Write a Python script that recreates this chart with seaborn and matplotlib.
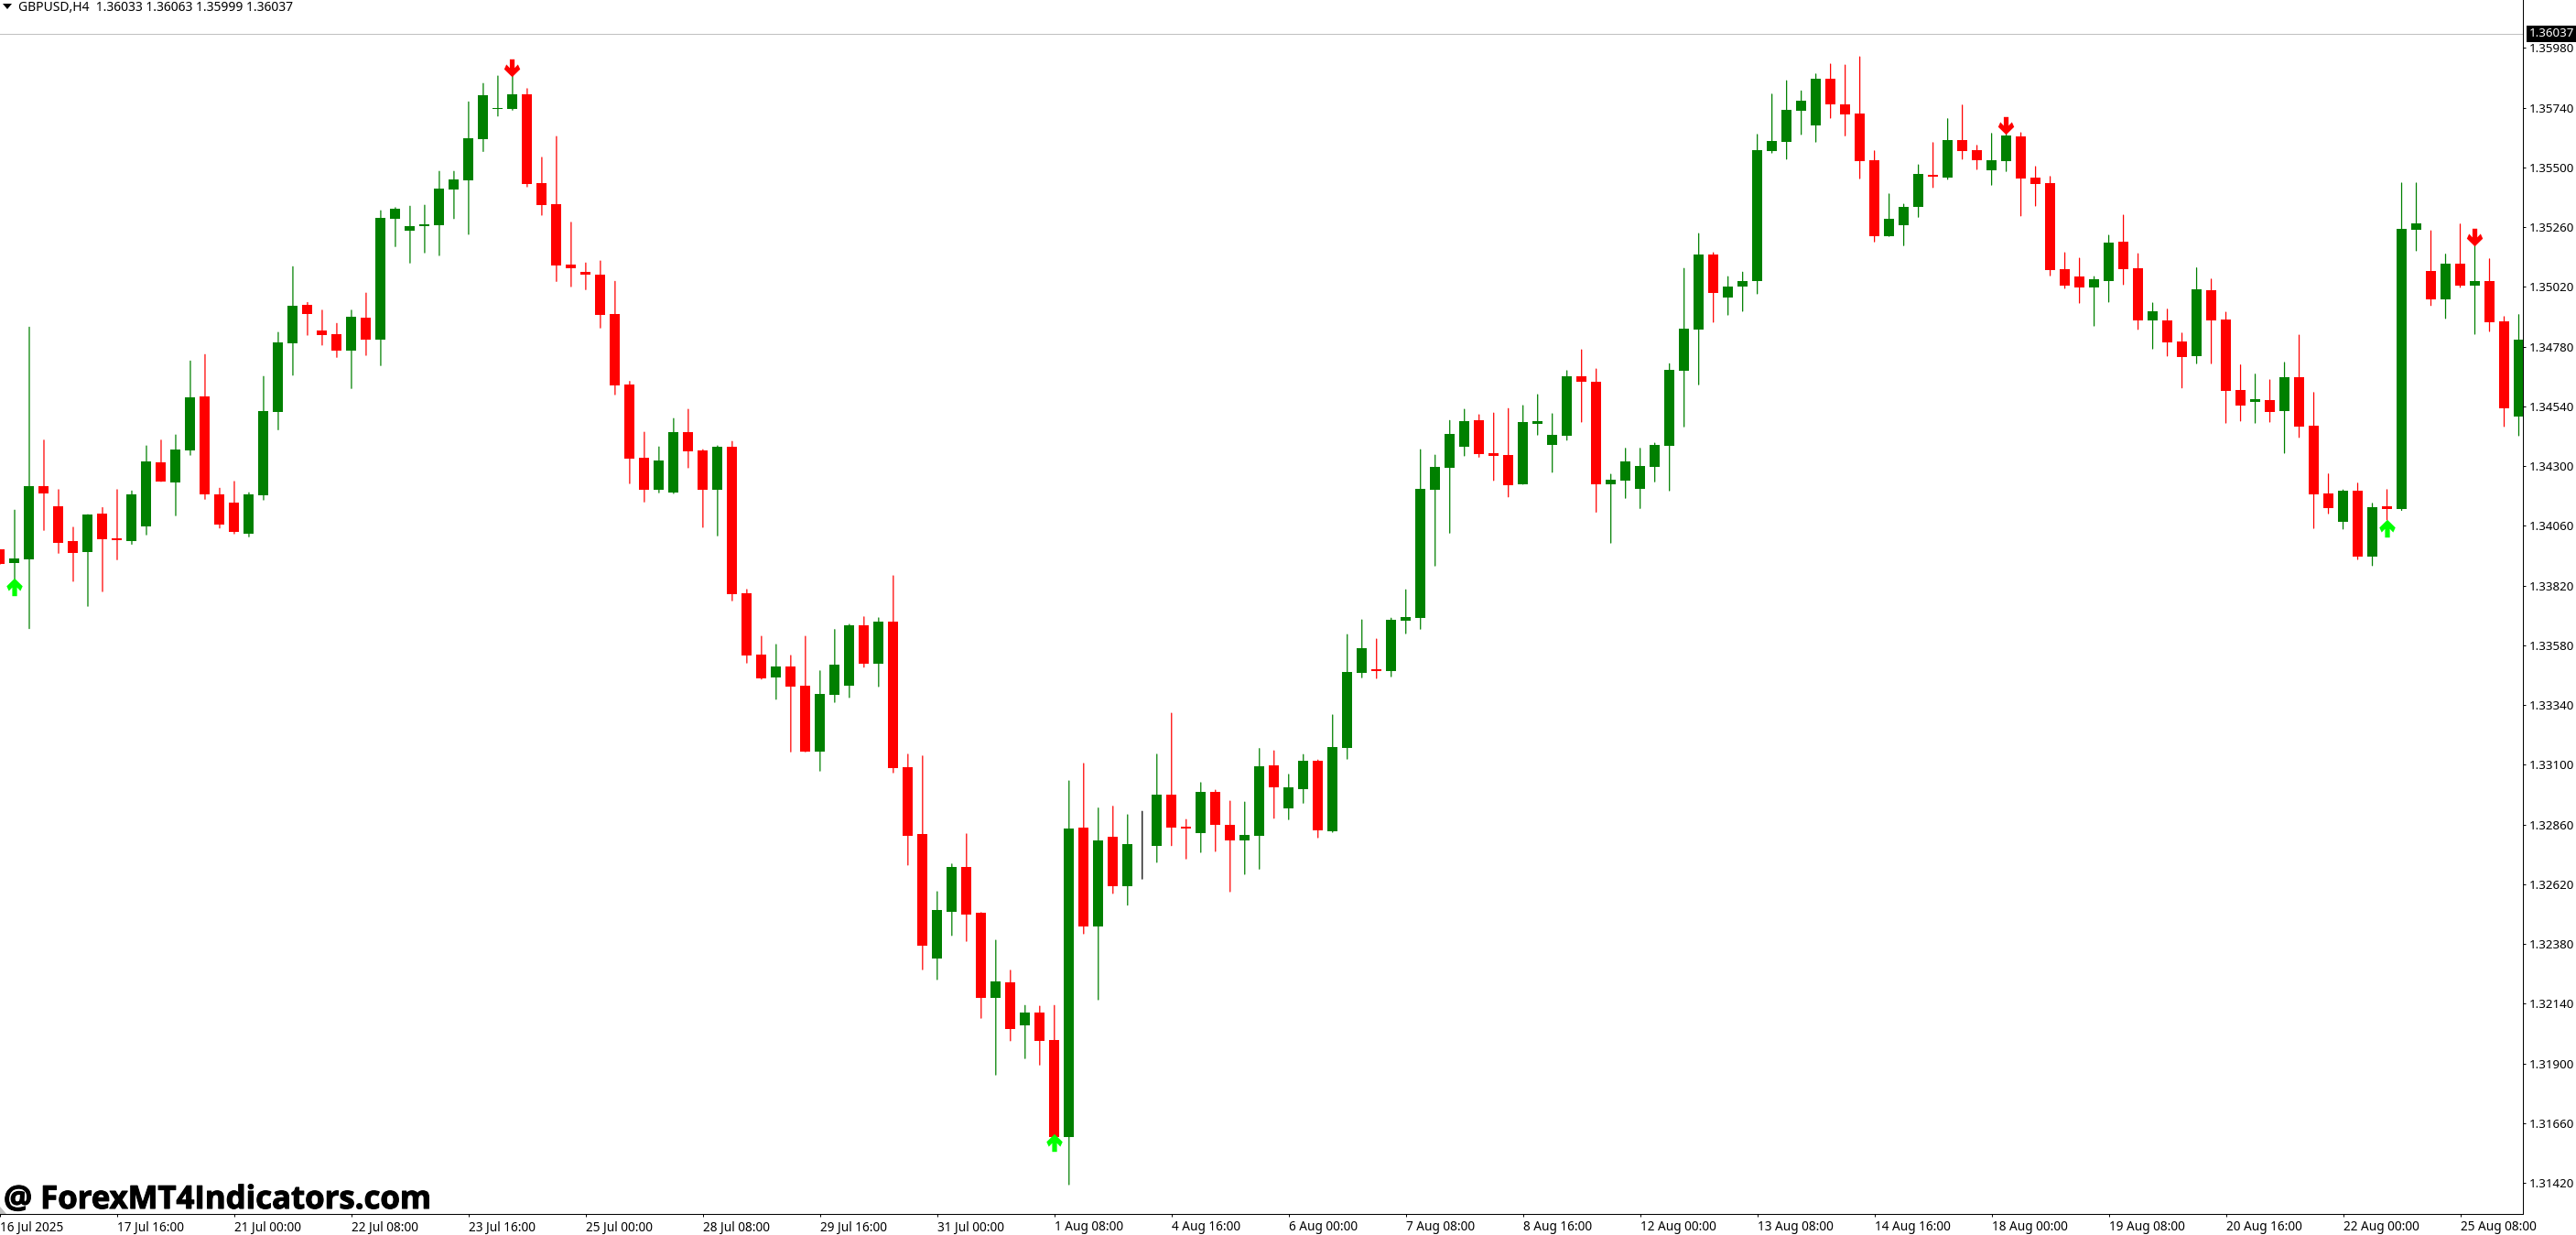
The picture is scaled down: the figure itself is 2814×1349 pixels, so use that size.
import matplotlib
matplotlib.use("Agg")
import matplotlib.pyplot as plt
from matplotlib.path import Path
from matplotlib.patches import Polygon
from matplotlib.transforms import IdentityTransform
import matplotlib.patheffects as pe
import seaborn as sns
import pandas as pd

# GBPUSD H4 candles, prices in 1e-5 units (points); first bar index is -1 (cut by the left edge)
opens = [133964,
 133909,133924,134220,134138,133998,133954,134108,134009,133998,134057,
 134315,134234,134363,134579,134185,134152,134028,134182,134517,134793,
 134947,134844,134829,134763,134896,134808,135294,135246,135264,135267,
 135410,135448,135614,135734,135734,135793,135436,135351,135110,135080,
 135069,134911,134627,134333,134204,134193,134436,134362,134204,134377,
 133790,133542,133451,133495,133418,133152,133381,133418,133660,133506,
 133676,133091,132822,132321,132509,132690,132506,132163,132226,132052,
 132105,131994,131604,132848,132449,132811,132613,132775,132775,132980,
 132852,132826,132991,132859,132796,132815,133098,132926,133002,133116,
 132832,133167,133469,133483,133476,133678,133689,134204,134293,134377,
 134483,134351,134344,134227,134470,134384,134422,134660,134638,134227,
 134242,134209,134297,134381,134683,134848,135150,134977,135021,135043,
 135566,135602,135728,135668,135855,135753,135716,135528,135223,135267,
 135340,135470,135460,135611,135570,135488,135525,135625,135460,135437,
 135092,135061,135018,135043,135202,135096,134885,134885,134801,134742,
 135006,134889,134606,134558,134565,134522,134657,134462,134191,134076,
 134201,133937,134139,134128,135249,135084,134970,135114,135025,135043,
 134881,134499]
highs = [133964,
 134123,134858,134404,134205,134054,134105,134133,134205,134200,134381,
 134404,134425,134722,134748,134211,134238,134193,134660,134837,135101,
 134957,134926,134873,134926,134995,135326,135338,135344,135348,135484,
 135484,135763,135837,135867,135876,135816,135540,135624,135279,135116,
 135124,135042,134640,134436,134377,134491,134528,134366,134381,134399,
 133804,133616,133583,133539,133616,133477,133643,133664,133694,133690,
 133859,133142,133135,132590,132701,132822,132506,132395,132274,132133,
 132130,132133,133035,133105,132926,132933,132899,132913,133142,133307,
 132880,133028,132998,132954,132950,133165,133156,133061,133141,133119,
 133300,133623,133682,133605,133689,133803,134366,134344,134483,134528,
 134506,134513,134531,134543,134587,134510,134683,134767,134690,134267,
 134371,134371,134392,134711,135094,135234,135157,135061,135079,135632,
 135794,135848,135807,135875,135915,135911,135944,135566,135393,135352,
 135510,135599,135695,135750,135588,135636,135634,135639,135503,135463,
 135157,135135,135061,135227,135308,135153,134955,134930,134834,135096,
 135051,134918,134706,134669,134646,134716,134826,134595,134268,134204,
 134231,134150,134205,135437,135437,135245,135151,135272,135190,135132,
 134900,134908]
lows = [133906,
 133840,133647,134042,133950,133837,133737,133796,133924,133986,134024,
 134238,134101,134344,134167,134051,134028,134016,134164,134446,134665,
 134826,134786,134737,134612,134745,134704,135182,135116,135157,135146,
 135294,135231,135564,135706,135730,135422,135308,135042,135021,135009,
 134855,134587,134230,134156,134193,134190,134293,134054,134020,133759,
 133509,133444,133363,133152,133152,133075,133351,133370,133492,133414,
 133068,132697,132277,132237,132414,132391,132082,131854,131991,131920,
 131894,131606,131413,132421,132156,132583,132536,132641,132708,132775,
 132722,132748,132752,132590,132660,132681,132885,132880,132946,132807,
 132829,133123,133450,133447,133454,133627,133645,133899,134031,134341,
 134336,134242,134176,134227,134425,134275,134404,134477,134115,133991,
 134171,134130,134237,134201,134458,134627,134878,134907,134922,134992,
 135558,135533,135632,135602,135698,135627,135455,135201,135223,135186,
 135300,135419,135452,135533,135492,135429,135484,135305,135345,135065,
 135014,134955,134863,134959,135029,134849,134771,134742,134614,134712,
 134712,134473,134481,134473,134477,134352,134415,134050,134109,134047,
 133925,133900,134084,134122,135165,134945,134893,135018,134830,134841,
 134459,134422]
closes = [133906,
 133929,134220,134190,133991,133950,134105,134006,134001,134185,134318,
 134238,134366,134576,134185,134064,134036,134185,134520,134796,134944,
 134911,134826,134763,134899,134808,135297,135333,135264,135271,135415,
 135451,135617,135789,135739,135793,135433,135348,135105,135095,135069,
 134906,134624,134330,134205,134322,134436,134359,134204,134377,133785,
 133539,133448,133495,133414,133152,133384,133502,133660,133506,133676,
 133087,132815,132374,132516,132690,132499,132163,132230,132038,132105,
 131991,131606,132843,132449,132796,132613,132782,132775,132980,132848,
 132843,132991,132859,132796,132818,133094,133010,133010,133116,132836,
 133171,133472,133568,133476,133682,133693,134209,134297,134429,134480,
 134348,134341,134224,134477,134480,134425,134660,134638,134227,134245,
 134318,134300,134384,134686,134851,135150,134995,135021,135043,135569,
 135606,135731,135768,135855,135753,135713,135525,135223,135292,135340,
 135474,135461,135611,135567,135529,135529,135629,135456,135433,135088,
 135025,135018,135051,135198,135092,134885,134922,134797,134738,135010,
 134885,134602,134544,134569,134518,134657,134459,134187,134131,134201,
 133937,134135,134128,135253,135276,134970,135114,135025,135043,134878,
 134532,134808]
first_bar = -1

# signal arrows: bar index and price of the arrow centre
buy_bars = [0, 71, 162]
buy_prices = [1.33813, 1.31582, 1.34052]
sell_bars = [34, 136, 168]
sell_prices = [1.35902, 1.35668, 1.35221]

xtick_bars = [-1, 7, 15, 23, 31, 39, 47, 55, 63, 71, 79, 87, 95, 103, 111, 119, 127, 135, 143, 151, 159, 167]
xtick_labels = ["16 Jul 2025", "17 Jul 16:00", "21 Jul 00:00", "22 Jul 08:00", "23 Jul 16:00", "25 Jul 00:00",
                "28 Jul 08:00", "29 Jul 16:00", "31 Jul 00:00", "1 Aug 08:00", "4 Aug 16:00", "6 Aug 00:00",
                "7 Aug 08:00", "8 Aug 16:00", "12 Aug 00:00", "13 Aug 08:00", "14 Aug 16:00", "18 Aug 00:00",
                "19 Aug 08:00", "20 Aug 16:00", "22 Aug 00:00", "25 Aug 08:00"]
ytick_values = [1.31420, 1.31660, 1.31900, 1.32140, 1.32380, 1.32620, 1.32860, 1.33100, 1.33340, 1.33580,
                1.33820, 1.34060, 1.34300, 1.34540, 1.34780, 1.35020, 1.35260, 1.35500, 1.35740, 1.35980]
last_price = 1.36037
header = "GBPUSD,H4  1.36033 1.36063 1.35999 1.36037"
watermark = "@ ForexMT4Indicators.com"

assert len(opens) == len(highs) == len(lows) == len(closes) == 173

GREEN, RED, LIME = "#008000", "#ff0000", "#00ff00"
FONT = "Noto Sans"
W, H = 2814, 1349
PX = 72 / 100  # points per pixel at dpi 100

sns.set_theme(style="white")
plt.rcParams["font.family"] = [FONT, "DejaVu Sans"]

df = pd.DataFrame({"bar": range(first_bar, first_bar + len(opens)), "open": opens, "high": highs,
                   "low": lows, "close": closes})
for c in ["open", "high", "low", "close"]:
    df[c] = df[c] / 1e5
df["kind"] = ["up" if c > o else "down" if c < o else "flat" for o, c in zip(df["open"], df["close"])]
palette = {"up": GREEN, "down": RED, "flat": "black"}

fig = plt.figure(figsize=(W / 100, H / 100), dpi=100, facecolor="white")
ax = fig.add_axes([0, (H - 1326) / H, 2756 / W, 1326 / H])

# current price line
ax.axhline(last_price, color="#c0c0c0", lw=PX, zorder=1, antialiased=False)

# wicks
wicks = df.melt(id_vars=["bar", "kind"], value_vars=["high", "low"], value_name="price")
sns.lineplot(data=wicks, x="bar", y="price", units="bar", hue="kind", palette=palette, estimator=None,
             legend=False, linewidth=1.25 * PX, sort=False, snap=False, ax=ax, zorder=2)

# bodies
bottoms = df[["open", "close"]].min(axis=1)
heights = (df["open"] - df["close"]).abs()
body_colors = [palette[k] for k in df["kind"]]
ax.bar(df["bar"], heights, bottom=bottoms, width=11 / 16, color=body_colors, linewidth=0,
       antialiased=False, zorder=3)

# arrows
up_verts = [(-0.05, 1), (0.85, 0.12), (0.6, -0.42), (0.22, -0.02), (0.22, -1), (-0.32, -1), (-0.32, -0.02),
            (-0.7, -0.42), (-0.95, 0.12), (-0.05, 1)]
up_arrow = Path(up_verts, closed=True)
down_arrow = Path([(x - 0.05, -y) for x, y in up_verts], closed=True)
sns.scatterplot(x=buy_bars, y=buy_prices, marker=up_arrow, s=195, color=LIME, linewidth=0, ax=ax, zorder=5)
sns.scatterplot(x=sell_bars, y=sell_prices, marker=down_arrow, s=195, color=RED, linewidth=0, ax=ax, zorder=5)

ax.set_xlim(-15.5 / 16, (2756 - 15.5) / 16)
ax.set_ylim(1.361724 - 1326 * 3.678e-5, 1.361724)
ax.set_xlabel("")
ax.set_ylabel("")

for s in ["top", "left"]:
    ax.spines[s].set_visible(False)
for s in ["bottom", "right"]:
    ax.spines[s].set_color("black")
    ax.spines[s].set_linewidth(PX)

ax.yaxis.tick_right()
ax.set_xticks(xtick_bars, xtick_labels)
ax.set_yticks(ytick_values, [f"{v:.5f}" for v in ytick_values])
ax.tick_params(axis="x", bottom=True, length=3 * PX, width=PX, color="black", pad=3.2, labelsize=9.8, labelcolor="black")
ax.tick_params(axis="y", right=True, length=3 * PX, width=PX, color="black", pad=3.0, labelsize=9.6, labelcolor="black")
for t in ax.get_xticklabels():
    t.set_ha("left")

# current price tag
ax.annotate(f"{last_price:.5f}", xy=(1, last_price), xycoords=("axes fraction", "data"),
            xytext=(6.5 * PX, 0), textcoords="offset points", color="white", fontsize=9.6, va="center", ha="left",
            annotation_clip=False, zorder=10,
            bbox=dict(boxstyle="square,pad=0.2", fc="black", ec="none"))

# header
fig.text(20 / W, 1 - 8 / H, header, fontsize=10, color="black", va="center", ha="left")
fig.add_artist(Polygon([(3, H - 4), (13, H - 4), (8, H - 10)], closed=True, fc="black", ec="none",
                       transform=IdentityTransform()))

# watermark
fig.add_artist(Polygon([(0, H - 1318), (7, H - 1326), (0, H - 1326)], closed=True, fc="#c0c0c0", ec="none",
                       transform=IdentityTransform()))
fig.text(4 / W, 1 - 1320 / H, watermark, fontsize=25, fontweight="bold", family="Open Sans", color="black",
         va="baseline", ha="left", path_effects=[pe.withStroke(linewidth=0.8, foreground="black")])

fig.savefig("out.png", dpi=100, facecolor="white")
